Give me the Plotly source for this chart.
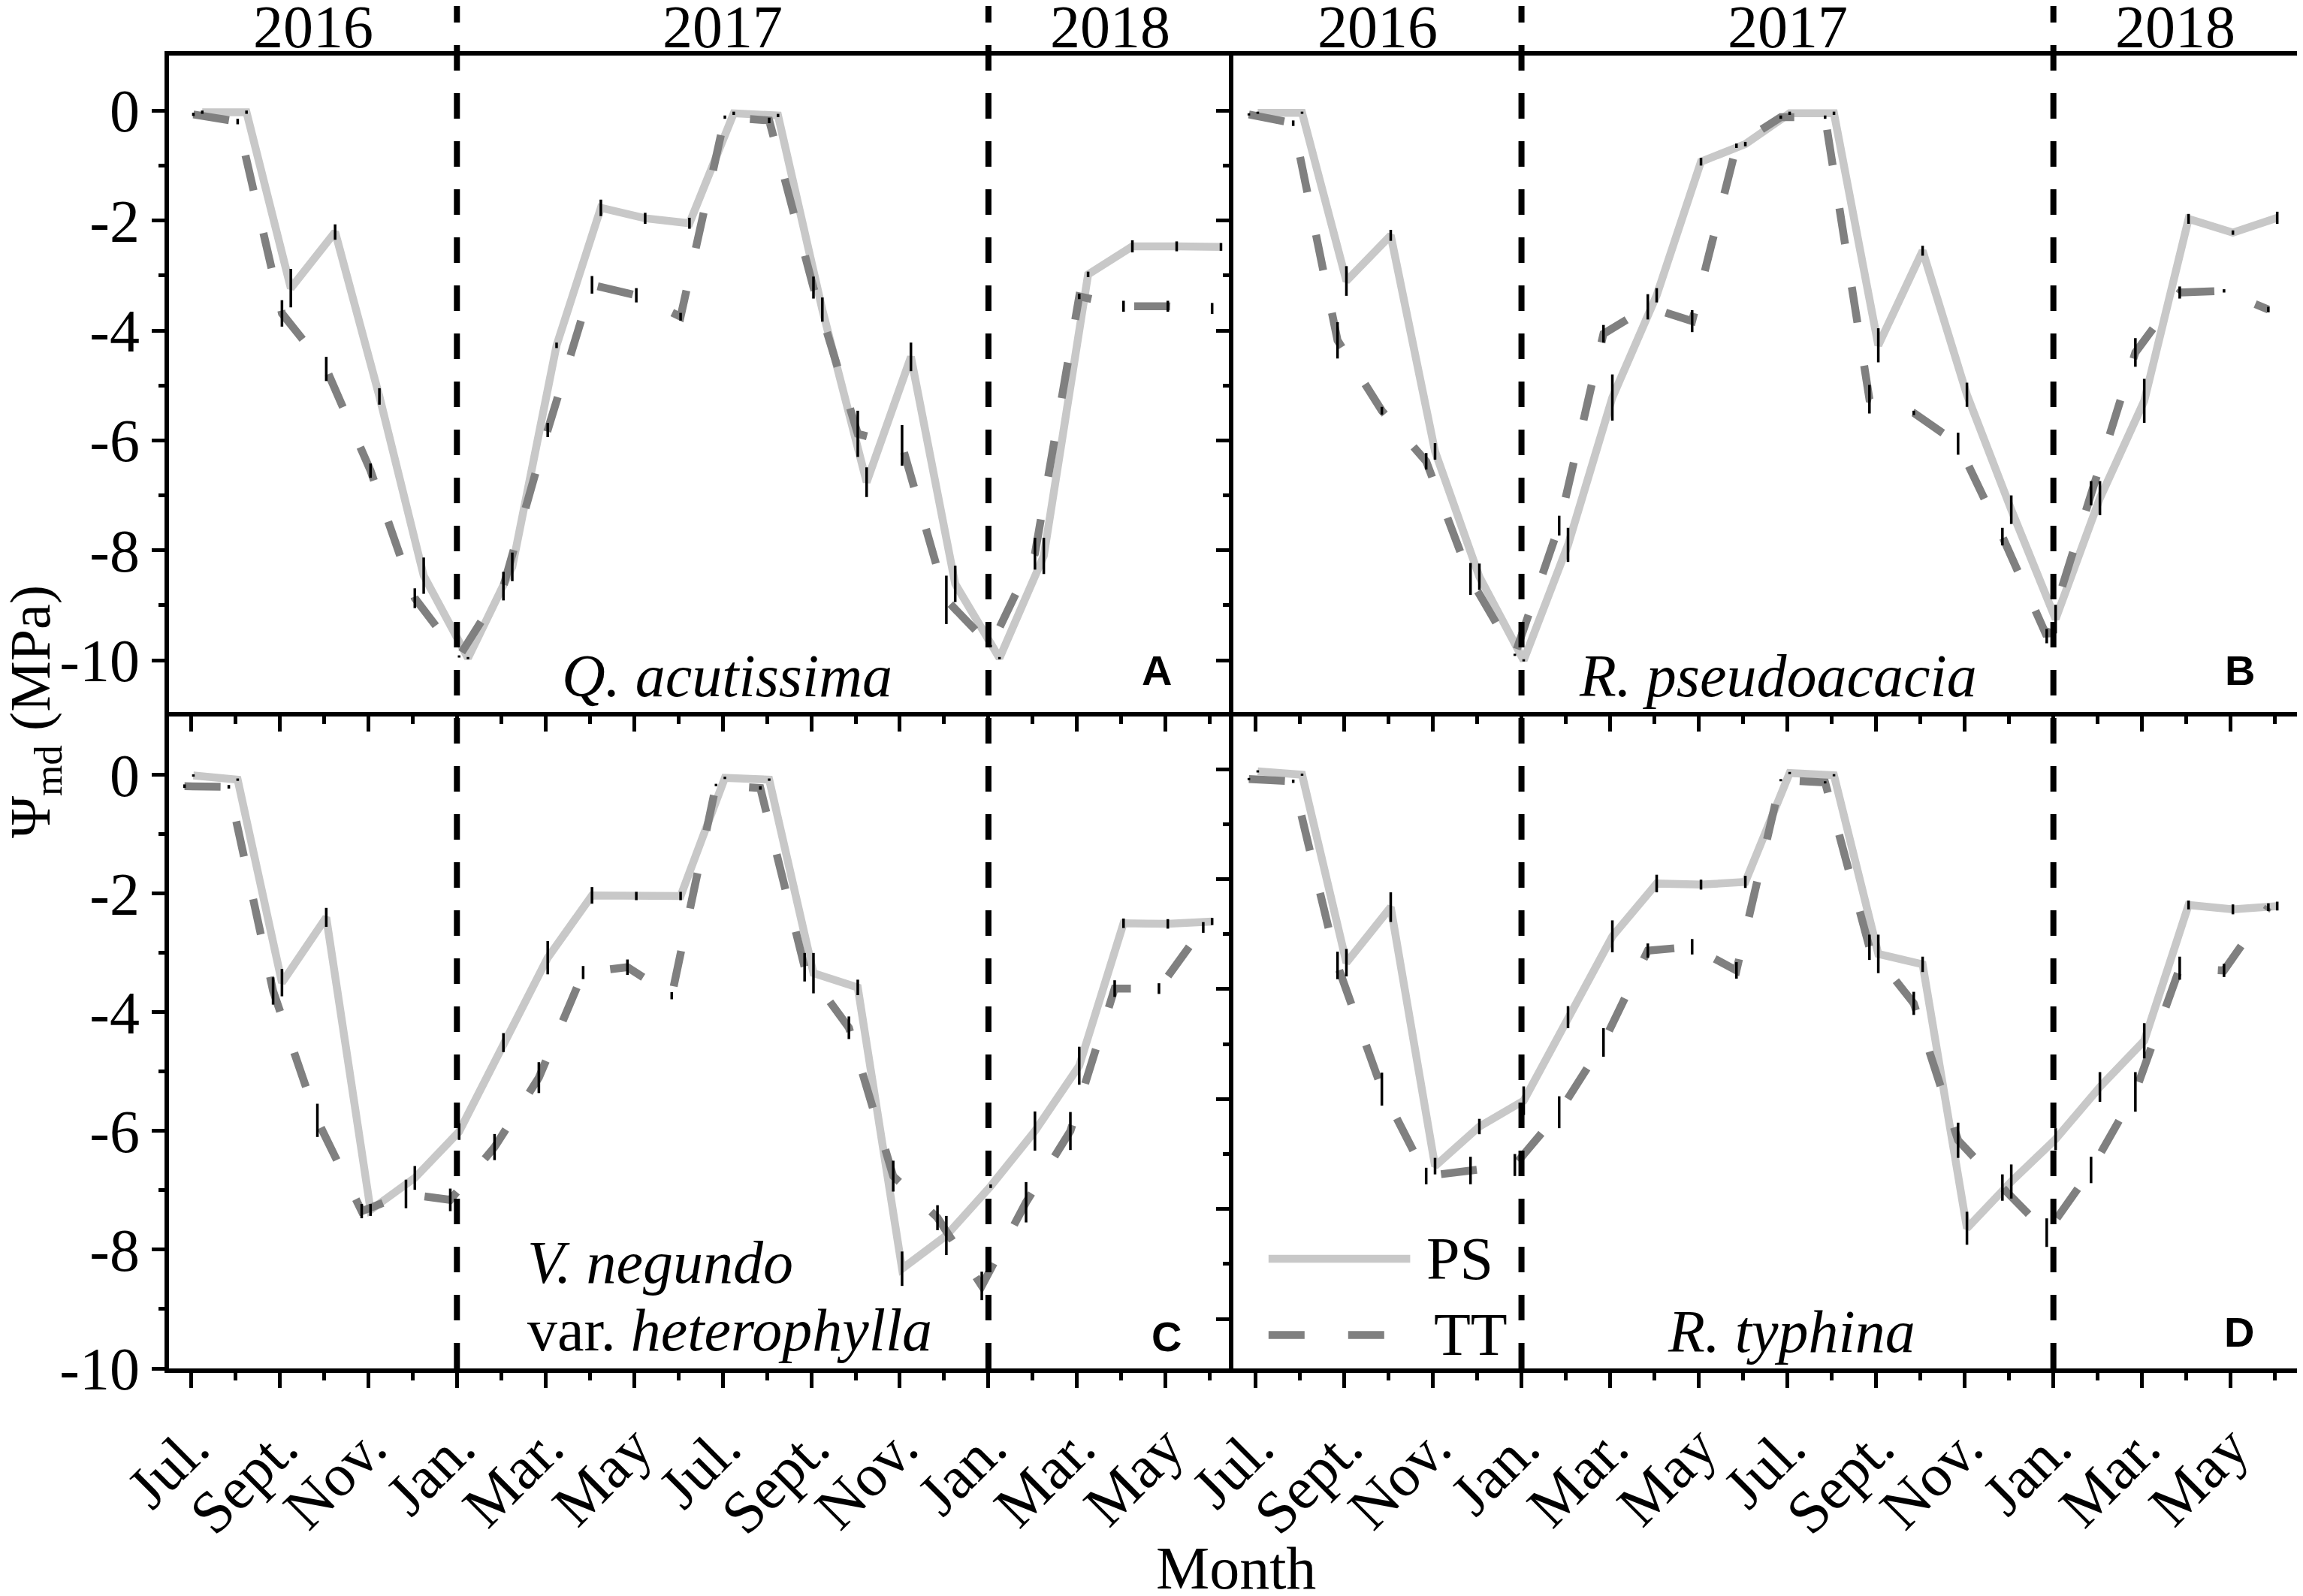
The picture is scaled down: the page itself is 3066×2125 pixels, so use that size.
import plotly.graph_objects as go

# ---- data ----
months = list(range(24))            # 0 = Jul. 2016 ... 23 = Jun. 2018
month_ticks = list(range(0, 24, 2))
month_minor = list(range(1, 24, 2))
month_labels = ["Jul.", "Sept.", "Nov.", "Jan.", "Mar.", "May"] * 2

y_ticks = [0, -2, -4, -6, -8, -10]
y_minor = [-1, -3, -5, -7, -9]
y_labels = ["0", "-2", "-4", "-6", "-8", "-10"]

years = ["2016", "2017", "2018"]
year_centres = [2.75, 12, 20.75]
year_breaks = [6, 18]

# A  Q. acutissima
ps_a = [-0.03, -0.03, -3.23, -2.21, -5.2, -8.46, -9.96, -8.3, -4.27, -1.77, -1.96, -2.05,
        -0.05, -0.09, -3.62, -6.76, -4.48, -8.61, -9.96, -8.1, -2.98, -2.47, -2.47, -2.48]
ps_a_err = [0.03, 0.03, 0.35, 0.14, 0.15, 0.33, 0.02, 0.26, 0.05, 0.15, 0.1, 0.1,
            0.03, 0.03, 0.22, 0.27, 0.26, 0.33, 0.02, 0.33, 0.05, 0.11, 0.09, 0.07]
tt_a = [-0.07, -0.2, -3.69, -4.7, -6.55, -8.87, -9.93, -8.65, -5.81, -3.17, -3.36, -3.75,
        -0.12, -0.18, -3.22, -5.88, -6.09, -8.9, -9.74, -8.06, -3.38, -3.56, -3.56, -3.6]
tt_a_err = [0.03, 0.05, 0.24, 0.22, 0.13, 0.18, 0.02, 0.26, 0.13, 0.16, 0.13, 0.07,
            0.03, 0.05, 0.2, 0.42, 0.37, 0.44, 0.02, 0.29, 0.05, 0.1, 0.1, 0.1]

# B  R. pseudoacacia
ps_b = [-0.04, -0.04, -3.1, -2.27, -6.2, -8.48, -10.0, -7.9, -5.22, -3.36, -0.93, -0.61,
        -0.05, -0.05, -4.27, -2.55, -5.17, -7.26, -9.25, -7.05, -5.28, -1.97, -2.22, -1.95]
ps_b_err = [0.02, 0.02, 0.27, 0.1, 0.15, 0.24, 0.02, 0.31, 0.42, 0.13, 0.07, 0.04,
            0.03, 0.03, 0.31, 0.09, 0.22, 0.26, 0.26, 0.31, 0.4, 0.09, 0.04, 0.11]
tt_b = [-0.07, -0.23, -4.18, -5.46, -6.38, -8.52, -9.9, -7.55, -4.06, -3.57, -3.83, -0.64,
        -0.12, -0.12, -5.25, -5.5, -6.06, -7.75, -9.56, -6.96, -4.4, -3.31, -3.28, -3.62]
tt_b_err = [0.02, 0.05, 0.33, 0.07, 0.15, 0.29, 0.02, 0.18, 0.16, 0.23, 0.2, 0.04,
            0.03, 0.03, 0.26, 0.04, 0.2, 0.16, 0.13, 0.22, 0.26, 0.11, 0.03, 0.05]

# C  V. negundo var. heterophylla
ps_c = [-0.01, -0.08, -3.5, -2.4, -7.33, -6.79, -6.01, -4.51, -3.08, -2.03, -2.04, -2.04,
        -0.05, -0.08, -3.34, -3.58, -8.32, -7.76, -6.93, -6.0, -4.9, -2.5, -2.51, -2.47]
ps_c_err = [0.02, 0.02, 0.23, 0.16, 0.1, 0.2, 0.14, 0.16, 0.28, 0.14, 0.07, 0.07,
            0.02, 0.02, 0.34, 0.13, 0.29, 0.33, 0.03, 0.33, 0.32, 0.08, 0.08, 0.06]
tt_c = [-0.19, -0.2, -3.64, -5.82, -7.35, -7.06, -7.16, -6.27, -5.1, -3.33, -3.24, -3.72,
        -0.17, -0.22, -3.24, -4.26, -6.76, -7.46, -8.61, -7.2, -6.0, -3.6, -3.6, -2.57]
tt_c_err = [0.03, 0.03, 0.23, 0.28, 0.12, 0.24, 0.19, 0.22, 0.26, 0.11, 0.13, 0.06,
            0.02, 0.03, 0.24, 0.19, 0.26, 0.21, 0.24, 0.34, 0.32, 0.14, 0.09, 0.09]

# D  R. typhina
ps_d = [-0.04, -0.1, -3.52, -2.51, -7.22, -6.5, -6.03, -4.51, -3.04, -2.08, -2.1, -2.05,
        -0.07, -0.11, -3.36, -3.55, -8.35, -7.5, -6.73, -5.78, -4.94, -2.47, -2.55, -2.49]
ps_d_err = [0.02, 0.02, 0.25, 0.27, 0.15, 0.14, 0.26, 0.2, 0.29, 0.16, 0.09, 0.11,
            0.02, 0.02, 0.35, 0.14, 0.3, 0.31, 0.2, 0.27, 0.32, 0.08, 0.09, 0.08]
tt_d = [-0.18, -0.22, -3.57, -5.82, -7.4, -7.3, -7.2, -6.24, -4.97, -3.3, -3.23, -3.66,
        -0.2, -0.24, -3.24, -4.26, -6.75, -7.61, -8.43, -7.29, -5.87, -3.62, -3.66, -2.51]
tt_d_err = [0.02, 0.03, 0.25, 0.3, 0.15, 0.25, 0.2, 0.29, 0.26, 0.13, 0.14, 0.15,
            0.02, 0.02, 0.23, 0.21, 0.32, 0.24, 0.26, 0.24, 0.36, 0.21, 0.12, 0.07]

# sampling-day offsets within the month, per panel (PS, TT)
shift_a = (0.25, 0.05)
shift_bcd = (0.05, -0.15)

PS_COLOR = "#c8c8c8"
TT_COLOR = "#808080"
SERIF = "Liberation Serif"
SANS = "Liberation Sans"
LINE_W = 10.5
TT_DASH = "48px,58px"

fig = go.Figure()


def add_panel(n, ps, ps_err, tt, tt_err, shift):
    xa = "x" if n == 1 else f"x{n}"
    ya = "y" if n == 1 else f"y{n}"
    xs_ps = [m + shift[0] for m in months]
    xs_tt = [m + shift[1] for m in months]
    fig.add_trace(go.Scatter(x=xs_ps, y=ps, mode="lines", xaxis=xa, yaxis=ya,
                             line=dict(color=PS_COLOR, width=LINE_W),
                             showlegend=False, hoverinfo="skip"))
    fig.add_trace(go.Scatter(x=xs_tt, y=tt, mode="lines", xaxis=xa, yaxis=ya,
                             line=dict(color=TT_COLOR, width=LINE_W, dash=TT_DASH),
                             showlegend=False, hoverinfo="skip"))
    # error bars on top of the lines
    for xs, ys, err in ((xs_ps, ps, ps_err), (xs_tt, tt, tt_err)):
        fig.add_trace(go.Scatter(x=xs, y=ys, mode="markers", xaxis=xa, yaxis=ya,
                                 marker=dict(size=1, color="rgba(0,0,0,0)"),
                                 error_y=dict(type="data", array=err, color="black",
                                              thickness=3.5, width=0),
                                 showlegend=False, hoverinfo="skip"))


add_panel(1, ps_a, ps_a_err, tt_a, tt_a_err, shift_a)
add_panel(2, ps_b, ps_b_err, tt_b, tt_b_err, shift_bcd)
add_panel(3, ps_c, ps_c_err, tt_c, tt_c_err, shift_bcd)
add_panel(4, ps_d, ps_d_err, tt_d, tt_d_err, shift_bcd)

tick_font = dict(family=SERIF, size=80, color="black")
split = 1417 / 2835


def x_axis(domain, anchor, labels):
    ax = dict(domain=domain, anchor=anchor, range=[-0.5, 23.53],
              tickmode="array", tickvals=month_ticks,
              ticks="outside", ticklen=20, tickwidth=5, tickcolor="black",
              minor=dict(tickmode="array", tickvals=month_minor, ticks="outside",
                         ticklen=10, tickwidth=5, tickcolor="black", showgrid=False),
              showline=True, linewidth=6, linecolor="black",
              showgrid=False, zeroline=False, automargin=False)
    if labels:
        # lower panels: bottom line only, labelled
        ax.update(mirror=False, ticktext=month_labels, tickangle=-45, tickfont=tick_font)
    else:
        # upper panels: frame top and the shared middle line
        ax.update(mirror=True, showticklabels=False)
    return ax


def y_axis(domain, anchor, rng, labels):
    ax = dict(domain=domain, anchor=anchor, range=rng,
              tickmode="array", tickvals=y_ticks,
              ticks="outside", ticklen=17, tickwidth=5, tickcolor="black",
              minor=dict(tickmode="array", tickvals=y_minor, ticks="outside",
                         ticklen=8, tickwidth=5, tickcolor="black", showgrid=False),
              showline=True, linewidth=6, linecolor="black",
              showgrid=False, zeroline=False, automargin=False)
    if labels:
        ax.update(mirror=False, ticktext=y_labels, tickfont=tick_font)
    else:
        ax.update(mirror=True, showticklabels=False)
    return ax


# page body adds an 8 px offset, so the figure is 8 px smaller and shifted back
fig.update_layout(
    width=3058, height=2117,
    margin=dict(l=217, r=6, t=66, b=303),
    paper_bgcolor="white", plot_bgcolor="white",
    font=dict(family=SERIF, size=80, color="black"),
    xaxis=x_axis([0, split], "y", False),
    xaxis2=x_axis([split, 1], "y2", False),
    xaxis3=x_axis([0, split], "y3", True),
    xaxis4=x_axis([split, 1], "y4", True),
    yaxis=y_axis([0.5, 1], "x", [-10.94, 1.0], True),
    yaxis2=y_axis([0.5, 1], "x2", [-10.94, 1.0], False),
    yaxis3=y_axis([0, 0.5], "x3", [-10.0, 1.06], True),
    yaxis4=y_axis([0, 0.5], "x4", [-10.9, 1.04], False),
)

# year separators and labels
for xr in ("x", "x2"):
    for b in year_breaks:
        fig.add_shape(type="line", xref=xr, yref="paper", x0=b, x1=b, y0=0, y1=1.05,
                      line=dict(color="black", width=8, dash="34px,30px"))
    for yr, xc in zip(years, year_centres):
        fig.add_annotation(xref=xr, yref="paper", x=xc, y=1.0215, text=yr,
                           showarrow=False, xanchor="center", yanchor="middle",
                           font=dict(family=SERIF, size=80))

# species names
species = [
    ("x domain", "y domain", 0.524, 0.055, "<i>Q. acutissima</i>", "center"),
    ("x2 domain", "y2 domain", 0.511, 0.055, "<i>R. pseudoacacia</i>", "center"),
    ("x3 domain", "y3 domain", 0.335, 0.161, "<i>V. negundo</i>", "left"),
    ("x3 domain", "y3 domain", 0.335, 0.058, "var. <i>heterophylla</i>", "left"),
    ("x4 domain", "y4 domain", 0.524, 0.056, "<i>R. typhina</i>", "center"),
]
for xr, yr, xv, yv, txt, anchor in species:
    fig.add_annotation(xref=xr, yref=yr, x=xv, y=yv, text=txt, showarrow=False,
                       xanchor=anchor, yanchor="middle", font=dict(family=SERIF, size=80))

# panel letters
letters = [("x domain", "y domain", 0.928, 0.063, "A"),
           ("x2 domain", "y2 domain", 0.945, 0.063, "B"),
           ("x3 domain", "y3 domain", 0.937, 0.049, "C"),
           ("x4 domain", "y4 domain", 0.944, 0.055, "D")]
for xr, yr, xv, yv, txt in letters:
    fig.add_annotation(xref=xr, yref=yr, x=xv, y=yv, text=f"<b>{txt}</b>", showarrow=False,
                       xanchor="center", yanchor="middle",
                       font=dict(family=SANS, size=56, color="black"))

# legend drawn by hand in panel D (long line samples)
fig.add_shape(type="line", xref="x4 domain", yref="y4 domain", x0=0.033, x1=0.166,
              y0=0.167, y1=0.167, line=dict(color=PS_COLOR, width=LINE_W))
fig.add_shape(type="line", xref="x4 domain", yref="y4 domain", x0=0.033, x1=0.142,
              y0=0.051, y1=0.051, line=dict(color=TT_COLOR, width=LINE_W, dash=TT_DASH))
fig.add_annotation(xref="x4 domain", yref="y4 domain", x=0.18, y=0.167, text="PS",
                   showarrow=False, xanchor="left", yanchor="middle",
                   font=dict(family=SERIF, size=80))
fig.add_annotation(xref="x4 domain", yref="y4 domain", x=0.187, y=0.051, text="TT",
                   showarrow=False, xanchor="left", yanchor="middle",
                   font=dict(family=SERIF, size=80))

# axis titles
fig.add_annotation(xref="paper", yref="paper", x=-0.0631, y=0.5,
                   text="Ψ<sub>md</sub> (MPa)", textangle=-90, showarrow=False,
                   xanchor="center", yanchor="middle", font=dict(family=SERIF, size=76))
fig.add_annotation(xref="paper", yref="paper", x=0.501, y=-0.152, text="Month",
                   showarrow=False, xanchor="center", yanchor="middle",
                   font=dict(family=SERIF, size=80))

fig.write_html("out.html")
